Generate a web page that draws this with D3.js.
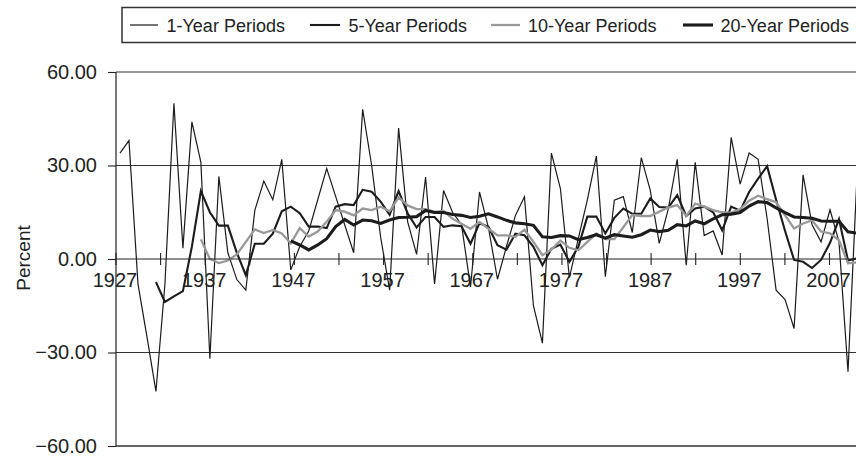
<!DOCTYPE html>
<html>
<head>
<meta charset="utf-8">
<script src="https://cdn.jsdelivr.net/npm/d3@7"></script>
<style>
  html, body { margin: 0; padding: 0; background: #fff; }
  svg { display: block; }
  text { font-family: Arial, "Liberation Sans", Helvetica, sans-serif; fill: #222; }
</style>
</head>
<body>
<svg id="chart" width="856" height="456"></svg>
<script>
// ---------------- data ----------------
const firstYear = 1927;
const oneYear = [34, 38, -8, -25, -42.5, -8, 50, 3.5, 44, 31,
  -32, 26.5, 2, -6.6, -10, 15.6, 25, 19, 32, -3.5,
  4, 9, 19, 29, 20, 11, 2, 48, 30, 7,
  -10, 42, 12, 1.5, 26.3, -8, 22, 15, 11, -9,
  21.5, 10, -6.5, 4, 14, 20, -15, -27, 34, 22.6,
  -6, 6.6, 19, 33, -5.7, 18.9, 20, 8.5, 32.5, 22,
  5, 16, 32, -2, 31, 7.5, 9, 1.3, 39, 24,
  34, 32, 13, -10, -13, -22.3, 27, 11, 5.5, 15.8,
  5.5, -36.2, 26.5];               // 1927-2009
const fiveStart = 1931;
const fiveYear = [-7.4, -13.8, -12, -10.3, 4, 21.8, 15, 10.7, 10.7, 2,
  -5.2, 4.9, 4.9, 8.1, 15.3, 16.8, 14.7, 10.4, 10.4, 9.9,
  16.8, 17.6, 17.3, 22.2, 21.6, 18.4, 14.2, 21.8, 14.7, 10.1,
  13.5, 13.5, 10.3, 10.8, 10.5, 4.9, 11.5, 10.3, 4.4, 3,
  8.1, 7.6, 3.9, -2, 3.3, 4.6, -0.9, 3.9, 13.6, 13.6,
  8.2, 13.2, 16.2, 14.5, 14.5, 19.4, 16.7, 16.5, 20.5, 13.8,
  16.2, 16.8, 15, 9.2, 16.8, 15.5, 21.5, 25.8, 29.8, 19,
  9, -0.3, -0.9, -2.9, -0.3, 5.2, 12.8, -0.5, 0.2];   // 1931-2009
const tenStart = 1936;
const tenYear = [6.3, 0, -1.3, -0.5, 1.5, 5.5, 9.5, 8.3, 9.3, 8.2,
  5, 9.9, 7.2, 8.8, 12, 15.7, 15.2, 14, 16.2, 15.7,
  16.8, 15.3, 19.8, 17.2, 16, 16, 15.1, 15.4, 12.9, 11.3,
  9.7, 11.9, 9.7, 7.6, 7.6, 7.1, 9.4, 5.5, 1.2, 3,
  5.9, 3.6, 2.8, 5.5, 8.2, 6.4, 6.4, 10.2, 14.1, 13.8,
  13.8, 15.2, 16.5, 17.3, 13.8, 17.8, 16.8, 15.7, 15, 14.8,
  16, 18.7, 20.3, 19.2, 18.2, 14, 9.8, 11.4, 12.4, 8.8,
  8.2, 6, -1.4, -1.1];              // 1936-2009
const twentyStart = 1946;
const twentyYear = [5.8, 4.5, 2.9, 4.5, 6.5, 10.4, 12.7, 10.9, 12.5, 12.3,
  11.4, 12.5, 13.3, 13.4, 13.6, 15.6, 14.9, 14.9, 14.3, 14,
  13.3, 13.7, 14.5, 13.5, 12.4, 11.6, 11.3, 10.8, 7.1, 6.9,
  7.5, 7.4, 6.2, 6.9, 7.8, 6.7, 7.8, 7.4, 7, 7.8,
  9.3, 8.8, 9.2, 11, 10.6, 12.2, 11.3, 12.9, 14.2, 14.4,
  14.9, 17, 18.4, 18.1, 16.4, 14.9, 13.5, 13.3, 13.1, 12.2,
  12.1, 12.1, 8.7, 8.3];            // 1946-2009
const seriesNames = ["1-Year Periods", "5-Year Periods", "10-Year Periods", "20-Year Periods"];
const yTickValues = [60, 30, 0, -30, -60];
const xTickYears = d3.range(1927, 2012, 5);
const xLabelYears = d3.range(1927, 2012, 10);

// ---------------- layout ----------------
const svg = d3.select("#chart");
const plotLeft = 116, plotRight = 856;

const y = d3.scaleLinear().domain([-60, 60]).range([446, 72]);
// scale used to place the data points
const xPt = d3.scaleLinear().domain([1927, 2008]).range([120, 848]);
// scale used for the category tick marks / labels
const xAx = d3.scaleLinear().domain([1927, 2007]).range([116, 829.5]);

const fmt = v => (v < 0 ? "\u2212" : "") + Math.abs(v).toFixed(2);

// gridlines
svg.append("g").selectAll("line")
  .data(yTickValues.filter(v => v !== 0))
  .join("line")
  .attr("x1", plotLeft).attr("x2", plotRight)
  .attr("y1", d => y(d)).attr("y2", d => y(d))
  .attr("stroke", "#333")
  .attr("stroke-width", d => d === -60 ? 1.6 : 1.1);

// y axis
const yAxis = d3.axisLeft(y).tickValues(yTickValues).tickSize(8).tickPadding(11).tickFormat(fmt);
const gy = svg.append("g").attr("transform", `translate(${plotLeft},0)`).call(yAxis);
gy.select(".domain").attr("stroke", "#222").attr("stroke-width", 1.2)
  .attr("d", `M0,${y(60)}V${y(-60)}`);
gy.selectAll(".tick line").attr("stroke", "#222").attr("stroke-width", 1.1);
gy.selectAll(".tick text").attr("font-size", 20).attr("fill", "#222")
  .attr("font-family", "Arial, 'Liberation Sans', sans-serif");

// lines
const series = [
  { name: seriesNames[0], start: firstYear, vals: oneYear, color: "#1c1c1c", w: 1.2 },
  { name: seriesNames[1], start: fiveStart, vals: fiveYear, color: "#1c1c1c", w: 2.1 },
  { name: seriesNames[2], start: tenStart, vals: tenYear, color: "#999999", w: 2.3 },
  { name: seriesNames[3], start: twentyStart, vals: twentyYear, color: "#1c1c1c", w: 3.1 }
];
const line = d3.line().x(d => xPt(d.year)).y(d => y(d.v));
series.forEach(s => {
  const pts = s.vals.map((v, i) => ({ year: s.start + i, v }));
  svg.append("path").datum(pts)
    .attr("d", line)
    .attr("fill", "none")
    .attr("stroke", s.color)
    .attr("stroke-width", s.w)
    .attr("stroke-linejoin", "miter")
    .attr("stroke-miterlimit", 4);
});

// x axis on zero line
const gx = svg.append("g").attr("transform", `translate(0,${y(0)})`);
gx.append("line").attr("x1", plotLeft).attr("x2", plotRight).attr("y1", 0).attr("y2", 0)
  .attr("stroke", "#222").attr("stroke-width", 1.2);
gx.selectAll("line.tk").data(xTickYears).join("line").attr("class", "tk")
  .attr("x1", d => xAx(d)).attr("x2", d => xAx(d))
  .attr("y1", -6).attr("y2", 6)
  .attr("stroke", "#222").attr("stroke-width", 1.1);
gx.selectAll("text").data(xLabelYears).join("text")
  .attr("x", d => xAx(d) - 1).attr("y", 28)
  .attr("text-anchor", "middle").attr("font-size", 20)
  .text(d => d);

// y title
svg.append("text")
  .attr("transform", "translate(30,258) rotate(-90)")
  .attr("text-anchor", "middle").attr("font-size", 19)
  .text("Percent");

// legend
const lg = svg.append("g");
lg.append("rect").attr("x", 122).attr("y", 7.5).attr("width", 760).attr("height", 35)
  .attr("fill", "#fff").attr("stroke", "#333").attr("stroke-width", 1.5);
const legendPos = [
  { x1: 130, x2: 158, tx: 166.5 },
  { x1: 310, x2: 340, tx: 348.5 },
  { x1: 491, x2: 520, tx: 528 },
  { x1: 683, x2: 713, tx: 720.5 }
];
series.forEach((s, i) => {
  const p = legendPos[i];
  lg.append("line").attr("x1", p.x1).attr("x2", p.x2).attr("y1", 25).attr("y2", 25)
    .attr("stroke", s.color).attr("stroke-width", s.w);
  lg.append("text").attr("x", p.tx).attr("y", 31.5).attr("font-size", 18).text(s.name);
});
</script>
</body>
</html>
